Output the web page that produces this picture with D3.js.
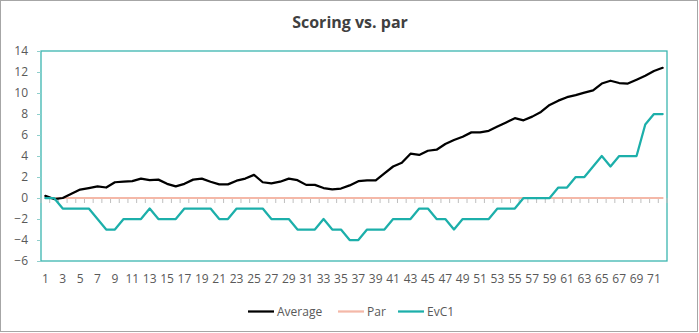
<!DOCTYPE html>
<html><head><meta charset="utf-8">
<script src="https://cdn.jsdelivr.net/npm/d3@7"></script>
<style>body{margin:0;background:#fff}svg{display:block;font-family:"Open Sans","Noto Sans",sans-serif}</style>
</head><body><svg id="c" width="699" height="333"></svg>
<script>
const categories = d3.range(1, 73);
const average = [0.2,-0.1,0.0,0.4,0.8,0.95,1.1,1.0,1.5,1.55,1.6,1.85,1.7,1.75,1.35,1.1,1.35,1.75,1.85,1.55,1.3,1.3,1.65,1.85,2.2,1.5,1.4,1.55,1.85,1.7,1.25,1.25,0.95,0.83,0.9,1.2,1.6,1.68,1.68,2.35,3.0,3.35,4.22,4.1,4.5,4.6,5.14,5.52,5.84,6.25,6.25,6.4,6.8,7.2,7.6,7.4,7.75,8.2,8.86,9.27,9.6,9.8,10.03,10.25,10.9,11.17,10.95,10.9,11.27,11.65,12.1,12.4];
const par = categories.map(() => 0);
const evc1 = [0,0,-1,-1,-1,-1,-2,-3,-3,-2,-2,-2,-1,-2,-2,-2,-1,-1,-1,-1,-2,-2,-1,-1,-1,-1,-2,-2,-2,-3,-3,-3,-2,-3,-3,-4,-4,-3,-3,-3,-2,-2,-2,-1,-1,-2,-2,-3,-2,-2,-2,-2,-1,-1,-1,0,0,0,0,1,1,2,2,3,4,3,4,4,4,7,8,8];
const yTicks = [-6,-4,-2,0,2,4,6,8,10,12,14];
const seriesNames = ["Average","Par","EvC1"];
const colors = ["#000000","#f4b8a8","#1cafaa"];

const svg = d3.select("#c");
const L = 41, R = 667, T = 51, B = 261;
svg.append("rect").attr("x",0.5).attr("y",0.5).attr("width",697).attr("height",331)
  .attr("fill","#fff").attr("stroke","#a6a6a6");

svg.append("text").attr("x",350).attr("y",28).attr("text-anchor","middle")
  .attr("font-size",16).attr("font-weight",700).attr("fill","#404040").text("Scoring vs. par");

const x = d3.scaleBand().domain(categories).range([L, R]).padding(0);
const y = d3.scaleLinear().domain([-6, 14]).range([B, T]);

// plot area border
svg.append("rect").attr("x",L).attr("y",T).attr("width",R-L).attr("height",B-T)
  .attr("fill","none").attr("stroke","#3bb5b0").attr("stroke-width",1.3);

// y axis
const ya = svg.append("g").attr("transform",`translate(${L},0)`)
  .call(d3.axisLeft(y).tickValues(yTicks).tickSize(4).tickPadding(9).tickFormat(d3.format("d")));
ya.select(".domain").remove();
ya.selectAll("line").attr("stroke","#8fcfcc");
ya.selectAll("text").attr("font-size",12).attr("fill","#595959").attr("font-family","'Open Sans',sans-serif");

// x ticks at category boundaries on the zero line
const boundaries = d3.range(0, categories.length + 1).map(i => L + i * x.bandwidth());
svg.append("g").selectAll("line").data(boundaries).join("line")
  .attr("x1",d=>d).attr("x2",d=>d).attr("y1",y(0)).attr("y2",y(0)+5)
  .attr("stroke","#bfbfbf").attr("stroke-width",1);

// x labels
svg.append("g").selectAll("text").data(categories.filter(c => c % 2 === 1)).join("text")
  .attr("x",d=>x(d)+x.bandwidth()/2).attr("y",283).attr("text-anchor","middle")
  .attr("font-size",12).attr("fill","#595959").text(d=>d);

const line = d3.line().x((d,i)=>x(categories[i])+x.bandwidth()/2).y(d=>y(d));
[par, average, evc1].forEach((s, k) => {
  const idx = [1,0,2][k];
  svg.append("path").datum(s).attr("d",line).attr("fill","none")
    .attr("stroke",colors[idx]).attr("stroke-width", idx===1 ? 2 : 2.25)
    .attr("stroke-linejoin","round").attr("stroke-linecap","round");
});

// legend
const lg = [{x:248},{x:338},{x:398}];
seriesNames.forEach((n,i)=>{
  svg.append("line").attr("x1",lg[i].x).attr("x2",lg[i].x+26).attr("y1",311.5).attr("y2",311.5)
    .attr("stroke",colors[i]).attr("stroke-width",2.25);
  svg.append("text").attr("x",lg[i].x+29).attr("y",316).attr("font-size",12).attr("fill","#595959").text(n);
});
</script></body></html>
